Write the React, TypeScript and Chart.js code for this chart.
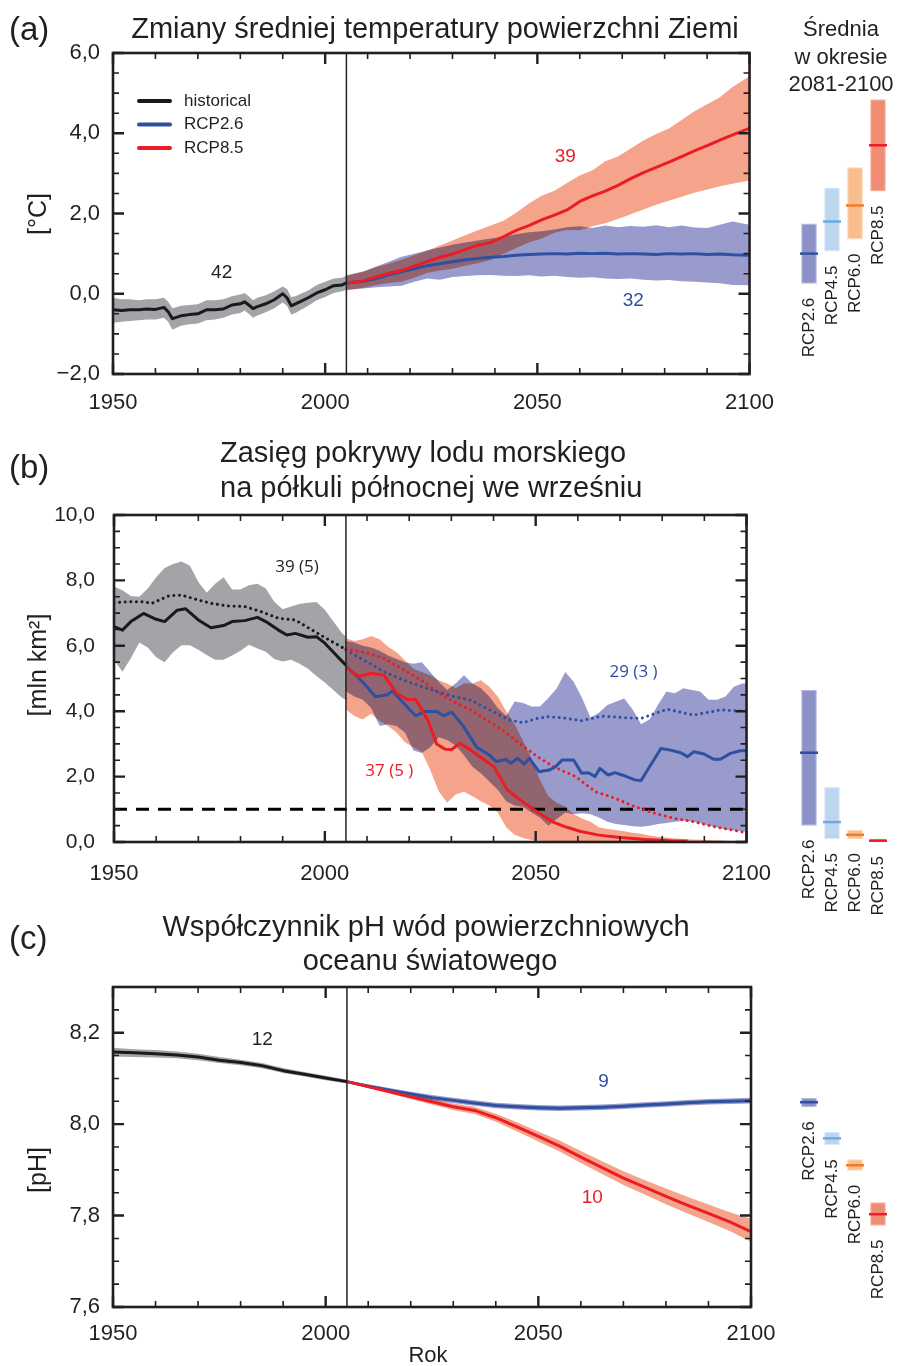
import React, { useEffect, useRef } from 'react';
import { Chart, registerables } from 'chart.js';

// ---------- blend plugin (registered before Filler so it wraps the fill) ----------
const blendPlugin = {
  id: 'blendFill',
  beforeDatasetDraw(chart: any, args: any) {
    const ds = chart.data.datasets[args.index];
    if (ds && ds.blendMode) {
      chart.ctx.save();
      chart.ctx.globalCompositeOperation = ds.blendMode;
    }
  },
  afterDatasetDraw(chart: any, args: any) {
    const ds = chart.data.datasets[args.index];
    if (ds && ds.blendMode) chart.ctx.restore();
  },
};
Chart.register(blendPlugin);
Chart.register(...registerables);

const FONT = '"Liberation Sans", Arial, Helvetica, sans-serif';
const INK = '#231f20';
Chart.defaults.font.family = FONT;
Chart.defaults.color = INK;

// ---------- colours ----------
const GRAY_BAND = '#a3a4a7';
const BLUE_BAND = '#989bcb';
const ORANGE_BAND = '#f5a48b';
const BLACK_LINE = '#1a1a1a';
const BLUE_LINE = '#2d50a0';
const RED_LINE = '#ec1c24';

// ---------- shared ----------
const xMin = 1950;
const xMax = 2100;
const dividerYear = 2005;
const sideLabels = ['RCP2.6', 'RCP4.5', 'RCP6.0', 'RCP8.5'];
const sideFill = ['#8c91c8', '#bcd6f0', '#f9be8c', '#f08c73'];
const sideEdge = ['#b3b7de', '#d9e8f8', '#fcd7b6', '#f6b3a1'];
const sideMeanColor = ['#2d50a0', '#6eaae0', '#f07d2d', '#ec1c24'];

// ---------- (a) temperature ----------
const histYearsA = [1950, 1952, 1954, 1956, 1958, 1960, 1962, 1963, 1964, 1966, 1968, 1970, 1972, 1974, 1976, 1978, 1980, 1981, 1982, 1983, 1984, 1986, 1988, 1990, 1991, 1992, 1993, 1994, 1996, 1998, 2000, 2002, 2004, 2005];
const histMeanA = [-0.40, -0.42, -0.40, -0.40, -0.38, -0.39, -0.34, -0.45, -0.62, -0.55, -0.52, -0.50, -0.40, -0.40, -0.38, -0.28, -0.25, -0.20, -0.28, -0.37, -0.32, -0.25, -0.15, 0.00, -0.10, -0.30, -0.25, -0.20, -0.10, 0.02, 0.10, 0.20, 0.22, 0.27];
const histLowA = [-0.72, -0.70, -0.68, -0.66, -0.64, -0.64, -0.60, -0.70, -0.90, -0.80, -0.76, -0.74, -0.66, -0.64, -0.60, -0.52, -0.48, -0.42, -0.50, -0.60, -0.54, -0.46, -0.36, -0.22, -0.30, -0.52, -0.48, -0.42, -0.30, -0.16, -0.08, 0.02, 0.06, 0.10];
const histHighA = [-0.10, -0.14, -0.14, -0.16, -0.14, -0.14, -0.10, -0.20, -0.36, -0.30, -0.28, -0.26, -0.16, -0.16, -0.14, -0.06, -0.02, 0.02, -0.06, -0.16, -0.10, -0.04, 0.06, 0.18, 0.12, -0.08, -0.06, -0.01, 0.08, 0.22, 0.30, 0.38, 0.40, 0.45];

const rcpYearsA = [2005, 2009, 2012, 2015, 2018, 2021, 2024, 2027, 2030, 2033, 2036, 2039, 2042, 2045, 2048, 2051, 2054, 2057, 2060, 2063, 2066, 2069, 2072, 2075, 2078, 2081, 2084, 2087, 2090, 2093, 2096, 2100];
const rcp85MeanA = [0.27, 0.32, 0.42, 0.51, 0.58, 0.69, 0.80, 0.91, 0.99, 1.10, 1.21, 1.28, 1.42, 1.58, 1.70, 1.84, 1.96, 2.09, 2.30, 2.44, 2.56, 2.70, 2.87, 3.02, 3.15, 3.28, 3.42, 3.56, 3.69, 3.83, 3.96, 4.12];
const rcp85HighA = [0.46, 0.56, 0.66, 0.75, 0.85, 0.96, 1.07, 1.20, 1.33, 1.46, 1.58, 1.70, 1.82, 2.02, 2.25, 2.44, 2.57, 2.76, 2.95, 3.08, 3.30, 3.42, 3.62, 3.82, 3.98, 4.12, 4.33, 4.55, 4.72, 4.90, 5.15, 5.42];
const rcp85LowA = [0.08, 0.15, 0.22, 0.27, 0.30, 0.40, 0.52, 0.58, 0.62, 0.70, 0.76, 0.84, 1.00, 1.14, 1.28, 1.38, 1.52, 1.59, 1.58, 1.68, 1.76, 1.86, 1.98, 2.10, 2.22, 2.32, 2.42, 2.52, 2.60, 2.68, 2.74, 2.82];
const rcp26MeanA = [0.27, 0.31, 0.38, 0.47, 0.55, 0.62, 0.70, 0.75, 0.80, 0.85, 0.88, 0.91, 0.93, 0.96, 0.98, 0.99, 1.00, 0.99, 1.01, 1.00, 1.01, 0.99, 1.00, 0.99, 0.98, 1.00, 0.99, 1.00, 0.98, 0.99, 0.97, 0.96];
const rcp26HighA = [0.45, 0.55, 0.68, 0.80, 0.92, 1.00, 1.08, 1.15, 1.22, 1.28, 1.33, 1.38, 1.42, 1.48, 1.53, 1.56, 1.60, 1.66, 1.68, 1.64, 1.70, 1.66, 1.69, 1.67, 1.71, 1.66, 1.70, 1.65, 1.64, 1.72, 1.80, 1.72];
const rcp26LowA = [0.10, 0.13, 0.16, 0.18, 0.20, 0.30, 0.38, 0.35, 0.42, 0.44, 0.46, 0.47, 0.45, 0.44, 0.46, 0.43, 0.45, 0.42, 0.40, 0.41, 0.38, 0.37, 0.38, 0.35, 0.33, 0.34, 0.31, 0.30, 0.28, 0.26, 0.22, 0.21];

const sideLowA = [0.25, 1.05, 1.35, 2.55];
const sideHighA = [1.75, 2.65, 3.15, 4.85];
const sideMeanA = [1.0, 1.8, 2.2, 3.7];

// ---------- (b) sea ice ----------
const histBandYearsB = [1950, 1952, 1954, 1956, 1958, 1960, 1962, 1964, 1966, 1968, 1970, 1972, 1974, 1976, 1978, 1980, 1982, 1984, 1986, 1988, 1990, 1992, 1994, 1996, 1998, 2000, 2002, 2004, 2005];
const histHighB = [7.81, 7.70, 7.52, 7.50, 7.75, 8.10, 8.38, 8.50, 8.58, 8.45, 7.95, 7.62, 7.90, 8.10, 7.72, 7.72, 7.85, 7.90, 7.75, 7.35, 7.12, 7.20, 7.28, 7.32, 7.34, 7.10, 6.75, 6.40, 6.28];
const histLowB = [5.57, 5.21, 5.62, 6.10, 5.95, 5.65, 5.50, 5.80, 6.02, 6.02, 5.88, 5.72, 5.57, 5.57, 5.70, 5.85, 6.03, 5.92, 5.82, 5.60, 5.52, 5.57, 5.45, 5.30, 5.08, 4.88, 4.65, 4.42, 4.34];
const histMeanYearsB = [1950, 1952, 1954, 1957, 1960, 1962, 1965, 1967, 1970, 1973, 1976, 1978, 1981, 1984, 1986, 1989, 1991, 1993, 1996, 1998, 2000, 2003, 2005];
const histMeanB = [6.59, 6.48, 6.74, 6.99, 6.81, 6.74, 7.09, 7.13, 6.79, 6.55, 6.62, 6.74, 6.77, 6.87, 6.74, 6.48, 6.33, 6.38, 6.26, 6.28, 6.08, 5.67, 5.41];
const histDotYearsB = [1950, 1954, 1957, 1959, 1963, 1966, 1970, 1973, 1977, 1981, 1985, 1989, 1993, 1997, 2001, 2005];
const histDotB = [7.32, 7.35, 7.35, 7.30, 7.53, 7.55, 7.40, 7.30, 7.22, 7.20, 7.04, 6.84, 6.79, 6.48, 6.18, 5.89];

const bandYearsB = [2005, 2007, 2009, 2011, 2013, 2015, 2017, 2019, 2021, 2023, 2025, 2027, 2029, 2031, 2033, 2035, 2037, 2039, 2041, 2043, 2045, 2047, 2049, 2051, 2053, 2055, 2057, 2059, 2061, 2063, 2065, 2067, 2069, 2071, 2073, 2075, 2077, 2079, 2081, 2083, 2085, 2087, 2089, 2091, 2093, 2095, 2097, 2099, 2100];
const rcp26HighB = [6.15, 6.10, 6.00, 5.95, 5.85, 5.70, 5.60, 5.50, 5.45, 5.50, 5.20, 4.90, 4.65, 4.85, 5.10, 4.85, 4.70, 4.45, 4.10, 3.85, 4.30, 4.25, 4.14, 4.14, 4.40, 4.70, 5.20, 4.90, 4.40, 3.80, 3.95, 4.19, 4.29, 4.39, 4.05, 3.60, 3.75, 4.20, 4.60, 4.55, 4.70, 4.65, 4.60, 4.35, 4.35, 4.45, 4.75, 4.85, 4.85];
const rcp26LowB = [4.60, 4.45, 4.35, 4.10, 3.55, 3.60, 3.55, 3.35, 2.80, 2.72, 2.90, 3.20, 3.12, 2.95, 2.65, 2.30, 2.10, 1.85, 1.60, 1.25, 1.12, 1.08, 0.90, 0.75, 0.50, 0.70, 0.90, 0.85, 0.88, 0.85, 0.75, 0.62, 0.55, 0.52, 0.48, 0.47, 0.50, 0.55, 0.58, 0.62, 0.65, 0.63, 0.57, 0.50, 0.45, 0.38, 0.35, 0.32, 0.32];
const rcp85HighB = [6.23, 6.15, 6.20, 6.30, 6.20, 5.97, 5.80, 5.55, 5.30, 5.20, 5.10, 4.95, 4.85, 4.70, 4.85, 4.85, 4.95, 4.75, 4.45, 4.00, 3.60, 3.10, 2.55, 1.90, 1.40, 1.20, 1.08, 0.85, 0.72, 0.62, 0.45, 0.40, 0.37, 0.33, 0.28, 0.25, 0.20, 0.16, 0.14, 0.11, 0.09, 0.08, 0.07, 0.06, 0.05, 0.04, 0.03, 0.03, 0.03];
const rcp85LowB = [4.05, 3.85, 3.75, 3.92, 3.70, 3.55, 3.35, 3.05, 2.90, 2.75, 2.20, 1.55, 1.20, 1.45, 1.54, 1.40, 1.25, 1.12, 0.90, 0.45, 0.22, 0.12, 0.06, 0.04, 0.03, 0.02, 0.02, 0.01, 0.01, 0.01, 0, 0, 0, 0, 0, 0, 0, 0, 0, 0, 0, 0, 0, 0, 0, 0, 0, 0, 0];

const rcp85MeanYearsB = [2005, 2008, 2011, 2014, 2017, 2019.5, 2021.5, 2023, 2024.5, 2026.5, 2028.5, 2030, 2032, 2034.6, 2037.8, 2040.1, 2043.3, 2046.4, 2050.4, 2052, 2054.3, 2057.4, 2060.7, 2065, 2070, 2076, 2082, 2086];
const rcp85MeanB = [5.34, 5.06, 5.16, 5.10, 4.55, 4.36, 4.36, 4.05, 3.70, 3.00, 2.84, 2.82, 3.02, 2.81, 2.51, 2.30, 1.59, 1.28, 0.92, 0.78, 0.60, 0.45, 0.32, 0.21, 0.14, 0.08, 0.04, 0.03];
const rcp26MeanYearsB = [2005, 2007.7, 2010, 2012, 2014.8, 2016, 2018.7, 2021.5, 2023.7, 2026.6, 2028.1, 2030.1, 2032.8, 2036, 2039.1, 2040.6, 2043, 2044.1, 2045.7, 2047.3, 2048.5, 2050.8, 2053.2, 2054.7, 2056.3, 2059, 2060.9, 2062.5, 2064.1, 2065.2, 2067.2, 2068.8, 2070.5, 2073.5, 2075, 2077, 2079.7, 2082, 2084.4, 2086, 2087.5, 2089.9, 2092.2, 2093.8, 2096.2, 2098.5, 2100];
const rcp26MeanB = [5.38, 5.06, 4.75, 4.44, 4.50, 4.62, 4.24, 3.86, 3.99, 3.99, 3.86, 3.97, 3.55, 2.90, 2.65, 2.46, 2.52, 2.41, 2.56, 2.38, 2.56, 2.15, 2.20, 2.30, 2.51, 2.51, 2.10, 2.12, 2.00, 2.25, 2.05, 2.12, 2.05, 1.90, 1.88, 2.30, 2.86, 2.81, 2.73, 2.61, 2.76, 2.69, 2.53, 2.53, 2.71, 2.79, 2.79];
const rcp26DotYearsB = [2005, 2010, 2014, 2018.7, 2023.5, 2026.6, 2030.5, 2034.6, 2039.1, 2043.8, 2047, 2050.4, 2053, 2056.3, 2060.9, 2065.6, 2070.3, 2075, 2081.2, 2087.5, 2093.8, 2099.5];
const rcp26DotB = [5.87, 5.51, 5.21, 4.95, 4.73, 4.60, 4.45, 4.34, 4.04, 3.73, 3.65, 3.78, 3.83, 3.80, 3.71, 3.85, 3.81, 3.78, 4.06, 3.88, 4.04, 4.00];
const rcp85DotYearsB = [2005, 2010, 2014, 2018.7, 2023.5, 2026.6, 2030.5, 2034.6, 2038.3, 2042.2, 2046.1, 2050.4, 2054.3, 2059.5, 2064.1, 2068.8, 2073.5, 2078.2, 2082.9, 2087.5, 2092.2, 2098.5, 2100];
const rcp85DotB = [5.90, 5.78, 5.62, 5.26, 4.90, 4.60, 4.29, 4.04, 3.73, 3.42, 3.02, 2.61, 2.30, 2.00, 1.54, 1.34, 1.08, 0.88, 0.72, 0.62, 0.47, 0.32, 0.28];
const iceFreeThreshold = 1.0;

const sideLowB = [0.5, 0.09, 0.09, 0.0];
const sideHighB = [4.65, 1.68, 0.37, 0.09];
const sideMeanB = [2.73, 0.61, 0.22, 0.04];

// ---------- (c) pH ----------
const histYearsC = [1950, 1955, 1960, 1965, 1970, 1975, 1980, 1985, 1990, 1995, 2000, 2005];
const histPHC = [8.158, 8.156, 8.154, 8.151, 8.147, 8.140, 8.135, 8.128, 8.117, 8.109, 8.101, 8.093];
const histLowC = [8.148, 8.147, 8.146, 8.144, 8.140, 8.134, 8.129, 8.122, 8.112, 8.104, 8.096, 8.089];
const histHighC = [8.167, 8.164, 8.162, 8.159, 8.154, 8.147, 8.141, 8.134, 8.123, 8.114, 8.106, 8.097];
const rcpYearsC = [2005, 2010, 2015, 2020, 2025, 2030, 2035, 2040, 2045, 2050, 2055, 2060, 2065, 2070, 2075, 2080, 2085, 2090, 2095, 2100];
const rcp26PHC = [8.093, 8.083, 8.074, 8.066, 8.058, 8.052, 8.046, 8.041, 8.038, 8.036, 8.035, 8.036, 8.037, 8.039, 8.042, 8.044, 8.047, 8.049, 8.050, 8.051];
const rcp26LowC = [8.091, 8.079, 8.069, 8.060, 8.052, 8.046, 8.040, 8.035, 8.032, 8.030, 8.029, 8.030, 8.031, 8.033, 8.036, 8.038, 8.041, 8.043, 8.044, 8.045];
const rcp26HighC = [8.095, 8.087, 8.079, 8.071, 8.064, 8.058, 8.052, 8.047, 8.044, 8.042, 8.041, 8.042, 8.043, 8.045, 8.048, 8.050, 8.053, 8.055, 8.056, 8.058];
const rcp85PHC = [8.093, 8.082, 8.071, 8.060, 8.049, 8.038, 8.030, 8.014, 7.994, 7.973, 7.952, 7.928, 7.905, 7.882, 7.862, 7.842, 7.823, 7.805, 7.786, 7.765];
const rcp85LowC = [8.091, 8.079, 8.067, 8.055, 8.043, 8.031, 8.022, 8.005, 7.984, 7.962, 7.940, 7.915, 7.891, 7.867, 7.846, 7.825, 7.805, 7.786, 7.766, 7.743];
const rcp85HighC = [8.095, 8.085, 8.075, 8.065, 8.055, 8.045, 8.038, 8.023, 8.004, 7.984, 7.964, 7.941, 7.919, 7.897, 7.878, 7.859, 7.841, 7.824, 7.807, 7.793];

const sideLowC = [8.037, 7.954, 7.898, 7.778];
const sideHighC = [8.058, 7.983, 7.923, 7.829];
const sideMeanC = [8.048, 7.969, 7.910, 7.803];

// ---------- helpers ----------
type Note = { text: string; x: number; y: number; color: string; font: string };
type LegendRow = { text: string; color: string };

const pts = (xs: number[], ys: number[]) => xs.map((x, i) => ({ x, y: ys[i] }));

function lineDs(xs: number[], ys: number[], color: string, width: number, order: number, style: 'solid' | 'dot' | 'dash' = 'solid') {
  return {
    type: 'line',
    data: pts(xs, ys),
    borderColor: color,
    borderWidth: width,
    pointRadius: 0,
    fill: false,
    order,
    tension: 0,
    borderJoinStyle: 'round',
    borderCapStyle: style === 'dot' ? 'round' : 'butt',
    borderDash: style === 'dot' ? [0.001, 5.6] : style === 'dash' ? [13, 9] : [],
  };
}

function bandDs(xs: number[], lo: number[], hi: number[], color: string, order: number, blend?: string) {
  return [
    { type: 'line', data: pts(xs, lo), borderColor: 'rgba(0,0,0,0)', borderWidth: 0, pointRadius: 0, fill: false, order, tension: 0 },
    { type: 'line', data: pts(xs, hi), borderColor: 'rgba(0,0,0,0)', borderWidth: 0, pointRadius: 0, fill: '-1', backgroundColor: color, order, tension: 0, blendMode: blend },
  ];
}

function fmtComma(v: number) {
  const s = Math.abs(v).toFixed(1).replace('.', ',');
  return v < -1e-9 ? '\u2212' + s : s;
}

function makeDecor(isMajorY: (v: number) => boolean, notes: Note[], legend?: LegendRow[]) {
  return {
    id: 'decor',
    afterDraw(chart: any) {
      const { ctx, chartArea: a, scales } = chart;
      const sx = scales.x;
      const sy = scales.y;
      ctx.save();
      ctx.strokeStyle = INK;
      ctx.lineCap = 'butt';
      sx.ticks.forEach((t: any) => {
        const p = sx.getPixelForValue(t.value);
        const major = Math.abs(t.value % 50) < 1e-6;
        const len = major ? 11 : 6;
        ctx.lineWidth = major ? 2.4 : 1.6;
        ctx.beginPath();
        ctx.moveTo(p, a.bottom);
        ctx.lineTo(p, a.bottom - len);
        ctx.moveTo(p, a.top);
        ctx.lineTo(p, a.top + len);
        ctx.stroke();
      });
      sy.ticks.forEach((t: any) => {
        const p = sy.getPixelForValue(t.value);
        const major = isMajorY(t.value);
        const len = major ? 11 : 6;
        ctx.lineWidth = major ? 2.4 : 1.6;
        ctx.beginPath();
        ctx.moveTo(a.left, p);
        ctx.lineTo(a.left + len, p);
        ctx.moveTo(a.right, p);
        ctx.lineTo(a.right - len, p);
        ctx.stroke();
      });
      ctx.lineWidth = 2.6;
      ctx.strokeRect(a.left, a.top, a.right - a.left, a.bottom - a.top);
      ctx.textAlign = 'center';
      ctx.textBaseline = 'middle';
      notes.forEach((n) => {
        ctx.font = n.font;
        ctx.fillStyle = n.color;
        ctx.fillText(n.text, sx.getPixelForValue(n.x), sy.getPixelForValue(n.y));
      });
      if (legend) {
        const x0 = a.left + 24;
        legend.forEach((r, i) => {
          const y = a.top + 48 + i * 23.5;
          ctx.strokeStyle = r.color;
          ctx.lineWidth = 4;
          ctx.lineCap = 'round';
          ctx.beginPath();
          ctx.moveTo(x0 + 2, y);
          ctx.lineTo(x0 + 33, y);
          ctx.stroke();
          ctx.fillStyle = INK;
          ctx.textAlign = 'left';
          ctx.font = `17px ${FONT}`;
          ctx.fillText(r.text, x0 + 47, y);
        });
      }
      ctx.restore();
    },
  };
}

type MainOpts = {
  datasets: any[];
  yMin: number;
  yMax: number;
  yStep: number;
  isMajorY: (v: number) => boolean;
  padTop: number;
  padRight: number;
  yWidth: number;
  xHeight: number;
  xPad: number;
  yPad: number;
  yFont: number;
  notes: Note[];
  legend?: LegendRow[];
};

function mainConfig(o: MainOpts): any {
  return {
    type: 'line',
    data: { datasets: o.datasets },
    options: {
      responsive: false,
      animation: false,
      devicePixelRatio: 1,
      events: [],
      layout: { padding: { top: o.padTop, right: o.padRight, left: 0, bottom: 0 } },
      plugins: { legend: { display: false }, tooltip: { enabled: false }, title: { display: false } },
      scales: {
        x: {
          type: 'linear',
          min: xMin,
          max: xMax,
          afterFit: (s: any) => { s.height = o.xHeight; },
          grid: { display: false, drawTicks: false },
          border: { display: false },
          ticks: {
            stepSize: 10,
            autoSkip: false,
            maxRotation: 0,
            minRotation: 0,
            padding: o.xPad,
            color: INK,
            font: { size: 22, family: FONT },
            callback: (v: number) => (Math.abs(v % 50) < 1e-6 ? String(v) : ''),
          },
        },
        y: {
          type: 'linear',
          min: o.yMin,
          max: o.yMax,
          afterFit: (s: any) => { s.width = o.yWidth; },
          grid: { display: false, drawTicks: false },
          border: { display: false },
          ticks: {
            stepSize: o.yStep,
            autoSkip: false,
            padding: o.yPad,
            color: INK,
            font: { size: o.yFont, family: FONT },
            callback: (v: number) => (o.isMajorY(v) ? fmtComma(v) : ''),
          },
        },
      },
    },
    plugins: [makeDecor(o.isMajorY, o.notes, o.legend)],
  };
}

const sideLabelPlugin = {
  id: 'sideLabels',
  afterDraw(chart: any) {
    const { ctx } = chart;
    const meta = chart.getDatasetMeta(0);
    ctx.save();
    ctx.fillStyle = INK;
    ctx.font = `17px ${FONT}`;
    ctx.textAlign = 'right';
    ctx.textBaseline = 'middle';
    meta.data.forEach((el: any, i: number) => {
      const { x, y, base } = el.getProps(['x', 'y', 'base'], true);
      const bottom = Math.max(y, base);
      ctx.save();
      ctx.translate(x, bottom + 14);
      ctx.rotate(-Math.PI / 2);
      ctx.fillText(chart.data.labels[i], 0, 0);
      ctx.restore();
    });
    ctx.restore();
  },
};

function sideConfig(lows: number[], highs: number[], means: number[], yMin: number, yMax: number, padTop: number, padBottom: number): any {
  return {
    type: 'bar',
    data: {
      labels: sideLabels,
      datasets: [
        {
          type: 'bar',
          data: lows.map((l, i) => [l, highs[i]]),
          backgroundColor: sideFill,
          borderColor: sideEdge,
          borderWidth: 1,
          borderSkipped: false,
          barPercentage: 0.68,
          categoryPercentage: 1,
          grouped: false,
          order: 2,
        },
        {
          type: 'line',
          data: means,
          showLine: false,
          pointStyle: 'line',
          pointRadius: 9,
          pointBorderWidth: 2.5,
          pointBorderColor: sideMeanColor,
          pointBackgroundColor: sideMeanColor,
          order: 1,
        },
      ],
    },
    options: {
      responsive: false,
      animation: false,
      devicePixelRatio: 1,
      events: [],
      layout: { padding: { top: padTop, bottom: padBottom, left: 6, right: 2 } },
      plugins: { legend: { display: false }, tooltip: { enabled: false } },
      scales: {
        x: { display: false, offset: true },
        y: { display: false, min: yMin, max: yMax },
      },
    },
    plugins: [sideLabelPlugin],
  };
}

// ---------- configs ----------
const majorEvery2 = (v: number) => Math.abs(v / 2 - Math.round(v / 2)) < 1e-6;
const majorPH = (v: number) => {
  const k = (v - 7.6) / 0.2;
  return Math.abs(k - Math.round(k)) < 1e-4;
};

const noteFont = `19px ${FONT}`;
const noteFontB = `17px "Open Sans", ${FONT}`;

function configA() {
  return mainConfig({
    datasets: [
      ...bandDs(histYearsA, histLowA, histHighA, GRAY_BAND, 10),
      ...bandDs(rcpYearsA, rcp26LowA, rcp26HighA, BLUE_BAND, 9),
      ...bandDs(rcpYearsA, rcp85LowA, rcp85HighA, ORANGE_BAND, 8, 'multiply'),
      lineDs(histYearsA, histMeanA, BLACK_LINE, 3, 4),
      lineDs(rcpYearsA, rcp26MeanA, BLUE_LINE, 3, 3),
      lineDs(rcpYearsA, rcp85MeanA, RED_LINE, 3, 2),
      lineDs([dividerYear, dividerYear], [-2, 6], INK, 1.5, 1),
    ],
    yMin: -2,
    yMax: 6,
    yStep: 0.5,
    isMajorY: majorEvery2,
    padTop: 53,
    padRight: 39,
    yWidth: 113,
    xHeight: 46,
    xPad: 16,
    yPad: 13,
    yFont: 22,
    notes: [
      { text: '42', x: 1975.6, y: 0.52, color: INK, font: noteFont },
      { text: '39', x: 2056.6, y: 3.41, color: RED_LINE, font: noteFont },
      { text: '32', x: 2072.6, y: -0.18, color: BLUE_LINE, font: noteFont },
    ],
    legend: [
      { text: 'historical', color: BLACK_LINE },
      { text: 'RCP2.6', color: BLUE_LINE },
      { text: 'RCP8.5', color: RED_LINE },
    ],
  });
}

function configB() {
  return mainConfig({
    datasets: [
      ...bandDs(histBandYearsB, histLowB, histHighB, GRAY_BAND, 10),
      ...bandDs(bandYearsB, rcp26LowB, rcp26HighB, BLUE_BAND, 9),
      ...bandDs(bandYearsB, rcp85LowB, rcp85HighB, ORANGE_BAND, 8, 'multiply'),
      lineDs([xMin, xMax], [iceFreeThreshold, iceFreeThreshold], '#000', 3, 7, 'dash'),
      lineDs(histDotYearsB, histDotB, BLACK_LINE, 3, 6, 'dot'),
      lineDs(rcp26DotYearsB, rcp26DotB, BLUE_LINE, 3, 5, 'dot'),
      lineDs(rcp85DotYearsB, rcp85DotB, RED_LINE, 3, 5, 'dot'),
      lineDs(histMeanYearsB, histMeanB, BLACK_LINE, 3, 4),
      lineDs(rcp26MeanYearsB, rcp26MeanB, BLUE_LINE, 3, 3),
      lineDs(rcp85MeanYearsB, rcp85MeanB, RED_LINE, 3, 2),
      lineDs([dividerYear, dividerYear], [0, 10], INK, 1.5, 1),
    ],
    yMin: 0,
    yMax: 10,
    yStep: 0.5,
    isMajorY: majorEvery2,
    padTop: 75,
    padRight: 37,
    yWidth: 114,
    xHeight: 58,
    xPad: 19,
    yPad: 19,
    yFont: 21,
    notes: [
      { text: '39 (5)', x: 1993.4, y: 8.41, color: INK, font: noteFontB },
      { text: '37 (5 )', x: 2015.3, y: 2.17, color: RED_LINE, font: noteFontB },
      { text: '29 (3 )', x: 2073.2, y: 5.2, color: BLUE_LINE, font: noteFontB },
    ],
  });
}

function configC() {
  return mainConfig({
    datasets: [
      ...bandDs(histYearsC, histLowC, histHighC, GRAY_BAND, 10),
      ...bandDs(rcpYearsC, rcp26LowC, rcp26HighC, BLUE_BAND, 9),
      ...bandDs(rcpYearsC, rcp85LowC, rcp85HighC, ORANGE_BAND, 8, 'multiply'),
      lineDs(histYearsC, histPHC, BLACK_LINE, 3, 4),
      lineDs(rcpYearsC, rcp26PHC, BLUE_LINE, 3, 3),
      lineDs(rcpYearsC, rcp85PHC, RED_LINE, 3, 2),
      lineDs([dividerYear, dividerYear], [7.6, 8.3], INK, 1.5, 1),
    ],
    yMin: 7.6,
    yMax: 8.3,
    yStep: 0.05,
    isMajorY: majorPH,
    padTop: 87,
    padRight: 39,
    yWidth: 113,
    xHeight: 43,
    xPad: 14,
    yPad: 13,
    yFont: 22,
    notes: [
      { text: '12', x: 1985.1, y: 8.184, color: INK, font: noteFont },
      { text: '9', x: 2065.3, y: 8.092, color: BLUE_LINE, font: noteFont },
      { text: '10', x: 2062.7, y: 7.84, color: RED_LINE, font: noteFont },
    ],
  });
}

// ---------- React ----------
function ChartCanvas(props: { make: () => any; left: number; top: number; width: number; height: number }) {
  const ref = useRef<HTMLCanvasElement>(null);
  useEffect(() => {
    const chart = new Chart(ref.current as HTMLCanvasElement, props.make());
    return () => chart.destroy();
  }, []);
  return (
    <canvas
      ref={ref}
      width={props.width}
      height={props.height}
      style={{ position: 'absolute', left: props.left, top: props.top, width: props.width, height: props.height }}
    />
  );
}

function Txt(props: { x: number; base: number; size: number; align?: 'left' | 'center'; children: React.ReactNode }) {
  const { x, base, size, align = 'center' } = props;
  return (
    <div
      style={{
        position: 'absolute',
        left: x,
        top: base - 0.8465 * size,
        fontSize: size,
        lineHeight: 1,
        whiteSpace: 'nowrap',
        transform: align === 'center' ? 'translateX(-50%)' : undefined,
        color: INK,
      }}
    >
      {props.children}
    </div>
  );
}

function VTxt(props: { cx: number; cy: number; size: number; children: React.ReactNode }) {
  return (
    <div
      style={{
        position: 'absolute',
        left: props.cx,
        top: props.cy,
        fontSize: props.size,
        lineHeight: 1,
        whiteSpace: 'nowrap',
        transform: 'translate(-50%, -50%) rotate(-90deg)',
        color: INK,
      }}
    >
      {props.children}
    </div>
  );
}

export default function App() {
  return (
    <div
      style={{
        position: 'absolute',
        left: 0,
        top: 0,
        width: 901,
        height: 1366,
        background: '#fff',
        overflow: 'hidden',
        fontFamily: FONT,
      }}
    >
      <ChartCanvas make={configA} left={0} top={0} width={790} height={420} />
      <ChartCanvas make={() => sideConfig(sideLowA, sideHighA, sideMeanA, -2, 6, 53, 46)} left={786} top={0} width={115} height={420} />
      <ChartCanvas make={configB} left={0} top={440} width={790} height={460} />
      <ChartCanvas make={() => sideConfig(sideLowB, sideHighB, sideMeanB, 0, 10, 75, 88)} left={786} top={440} width={115} height={490} />
      <ChartCanvas make={configC} left={0} top={900} width={790} height={450} />
      <ChartCanvas make={() => sideConfig(sideLowC, sideHighC, sideMeanC, 7.6, 8.3, 87, 59)} left={786} top={900} width={115} height={466} />

      <Txt x={9} base={40} size={33} align="left">(a)</Txt>
      <Txt x={435} base={39} size={29}>Zmiany średniej temperatury powierzchni Ziemi</Txt>
      <Txt x={841} base={37} size={22}>Średnia</Txt>
      <Txt x={841} base={65} size={22}>w okresie</Txt>
      <Txt x={841} base={92} size={22}>2081-2100</Txt>
      <VTxt cx={37} cy={214} size={25}>[°C]</VTxt>

      <Txt x={9} base={478} size={33} align="left">(b)</Txt>
      <Txt x={220} base={463} size={29} align="left">Zasięg pokrywy lodu morskiego</Txt>
      <Txt x={220} base={498} size={29} align="left">na półkuli północnej we wrześniu</Txt>
      <VTxt cx={37} cy={665} size={25}>[mln km²]</VTxt>

      <Txt x={9} base={949} size={33} align="left">(c)</Txt>
      <Txt x={426} base={937} size={29}>Współczynnik pH wód powierzchniowych</Txt>
      <Txt x={430} base={971} size={29}>oceanu światowego</Txt>
      <VTxt cx={37} cy={1170} size={25}>[pH]</VTxt>

      <Txt x={428} base={1363} size={22}>Rok</Txt>
    </div>
  );
}
